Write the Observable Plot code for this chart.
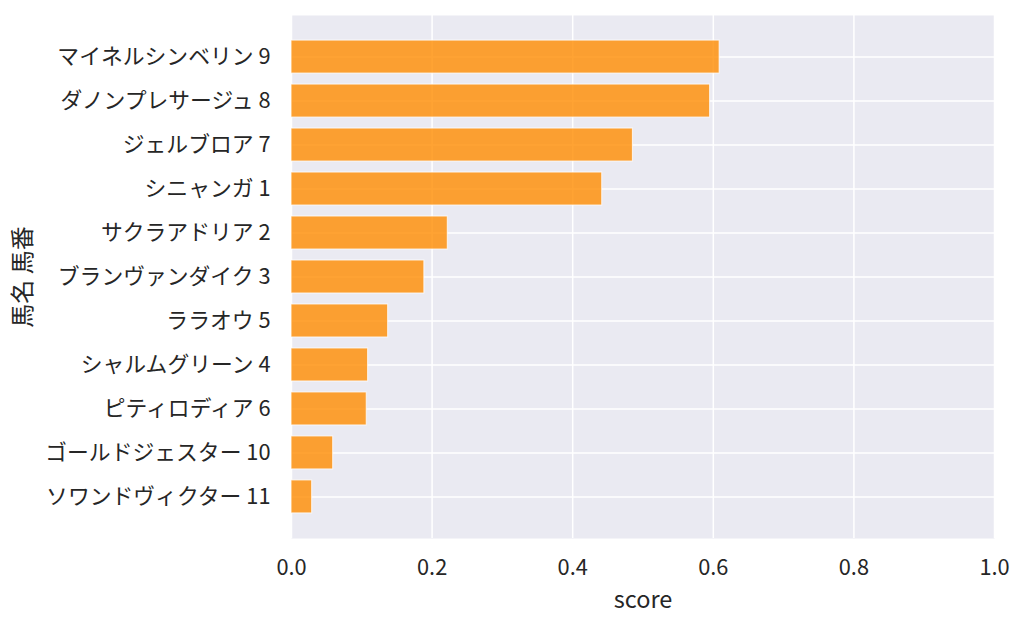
<!DOCTYPE html>
<html>
<head>
<meta charset="utf-8">
<script src="https://cdn.jsdelivr.net/npm/d3@7"></script>
<script src="https://cdn.jsdelivr.net/npm/@observablehq/plot@0.6"></script>
<style>
  html, body { margin: 0; padding: 0; background: white; }
</style>
</head>
<body>
<div id="chart"></div>
<script>
const horseNames = ["マイネルシンベリン", "ダノンプレサージュ", "ジェルブロア", "シニャンガ", "サクラアドリア", "ブランヴァンダイク", "ララオウ", "シャルムグリーン", "ピティロディア", "ゴールドジェスター", "ソワンドヴィクター"];
const horseNumbers = [9, 8, 7, 1, 2, 3, 5, 4, 6, 10, 11];
const scores = [0.609, 0.5955, 0.4856, 0.442, 0.2223, 0.189, 0.1375, 0.109, 0.107, 0.0593, 0.0294];
const xTicks = [0, 0.2, 0.4, 0.6, 0.8, 1.0];
const xLabel = "score";
const yLabel = "馬名 馬番";

const labels = horseNames.map((n, i) => `${n} ${horseNumbers[i]}`);
const data = labels.map((label, i) => ({label, score: scores[i]}));

const font = "'Noto Sans CJK JP', 'Noto Sans', sans-serif";

const chart = Plot.plot({
  width: 1024,
  height: 627,
  marginLeft: 291,
  marginRight: 30,
  marginTop: 15,
  marginBottom: 89,
  style: {fontFamily: font, fontSize: "21.8px", color: "#262626", background: "white"},
  x: {domain: [0, 1], ticks: xTicks, tickFormat: d3.format(".1f"), tickSize: 0, tickPadding: 21, label: null},
  y: {domain: labels, round: false, paddingInner: 0.25, paddingOuter: 0.57, tickSize: 0, tickPadding: 21, label: null},
  marks: [
    Plot.frame({fill: "#eaeaf2", stroke: null}),
    Plot.ruleX(xTicks, {x: d => d, stroke: "white", strokeWidth: 1.5}),
    Plot.ruleY(labels, {y: d => d, stroke: "white", strokeWidth: 1.5}),
    Plot.barX(data, {x: "score", y: "label", fill: "#ff8c00", fillOpacity: 0.8, stroke: "white", strokeOpacity: 0.8, strokeWidth: 1}),
    Plot.text([xLabel], {text: d => d, frameAnchor: "bottom", textAnchor: "middle", lineAnchor: "middle", dy: 62, fontSize: 23.5, fill: "#262626"}),
    Plot.text([yLabel], {text: d => d, frameAnchor: "left", textAnchor: "middle", lineAnchor: "middle", dx: -268, rotate: -90, fontSize: 24, fill: "#262626"})
  ]
});
document.getElementById("chart").appendChild(chart);
</script>
</body>
</html>
